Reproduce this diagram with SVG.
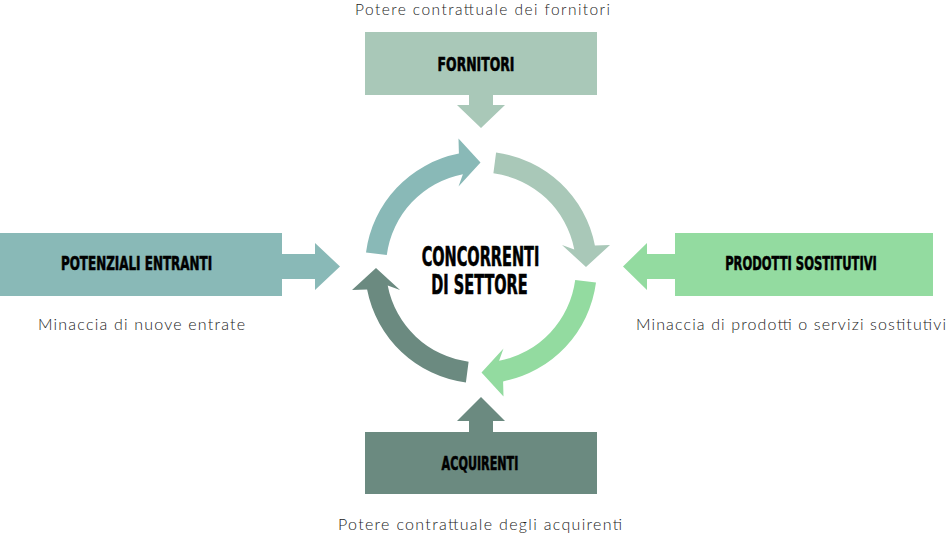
<svg xmlns="http://www.w3.org/2000/svg" width="950" height="535" viewBox="0 0 950 535">
  <style>
    .lbl { font-family: "DejaVu Sans Condensed", "DejaVu Sans", "Liberation Sans", sans-serif; font-stretch: condensed; font-weight: bold; fill: #000; stroke: #000; stroke-width: 0.6px; text-anchor: middle; }
    .box { font-size: 20px; }
    .core { font-size: 26px; }
    .desc { font-family: Lato, "Open Sans", "Liberation Sans", sans-serif; font-weight: 300; font-size: 16px; fill: #222; text-anchor: middle; }
    .c-forn { fill: #a9c8b8; }
    .c-pot { fill: #89b9b7; }
    .c-prod { fill: #93dba0; }
    .c-acq { fill: #6b8a80; }
  </style>
  <defs>
    <path id="arc" d="M496.1 152.5 A116 116 0 0 1 594.9 245.4 L610 245 L586 267 L562 245 L574.3 249.4 A95 95 0 0 0 493.4 173.3 Z"/>
  </defs>

  <g id="cycle">
    <use href="#arc" class="c-forn"/>
    <use href="#arc" class="c-prod" transform="rotate(90 481 267.5)"/>
    <use href="#arc" class="c-acq" transform="rotate(180 481 267.5)"/>
    <use href="#arc" class="c-pot" transform="rotate(270 481 267.5)"/>
  </g>

  <g id="connectors">
    <polygon class="c-forn" points="469,94 493,94 493,105 505,105 481,128 457,105 469,105"/>
    <polygon class="c-pot" points="281,254 315,254 315,243 340,266.5 315,290 315,279 281,279"/>
    <polygon class="c-prod" points="676,254 647,254 647,243 623,266.5 647,290 647,279 676,279"/>
    <polygon class="c-acq" points="469,433 493,433 493,421 505,421 481,397 457,421 469,421"/>
  </g>

  <g id="node-concorrenti">
    <text class="lbl core" transform="translate(480.5 265.5) scale(0.62 1)" x="0" y="0">CONCORRENTI</text>
    <text class="lbl core" transform="translate(479.5 293.5) scale(0.62 1)" x="0" y="0">DI SETTORE</text>
  </g>

  <g id="node-fornitori">
    <rect class="c-forn" x="365" y="32" width="232" height="63"/>
    <text class="lbl box" transform="translate(476 71) scale(0.69 1)" x="0" y="0">FORNITORI</text>
    <text class="desc" x="482.5" y="15" textLength="255" style="font-size:15.5px">Potere contrattuale dei fornitori</text>
  </g>

  <g id="node-potenziali">
    <rect class="c-pot" x="0" y="233" width="282" height="63"/>
    <text class="lbl box" transform="translate(136.5 270) scale(0.665 1)" x="0" y="0">POTENZIALI ENTRANTI</text>
    <text class="desc" x="141.5" y="330" textLength="207">Minaccia di nuove entrate</text>
  </g>

  <g id="node-prodotti">
    <rect class="c-prod" x="675" y="233" width="258" height="63"/>
    <text class="lbl box" transform="translate(801 270) scale(0.64 1)" x="0" y="0">PRODOTTI SOSTITUTIVI</text>
    <text class="desc" x="791" y="330" textLength="310">Minaccia di prodotti o servizi sostitutivi</text>
  </g>

  <g id="node-acquirenti">
    <rect class="c-acq" x="365" y="432" width="232" height="62"/>
    <text class="lbl box" transform="translate(480 470) scale(0.62 1)" x="0" y="0">ACQUIRENTI</text>
    <text class="desc" x="480" y="530" textLength="284">Potere contrattuale degli acquirenti</text>
  </g>
</svg>
